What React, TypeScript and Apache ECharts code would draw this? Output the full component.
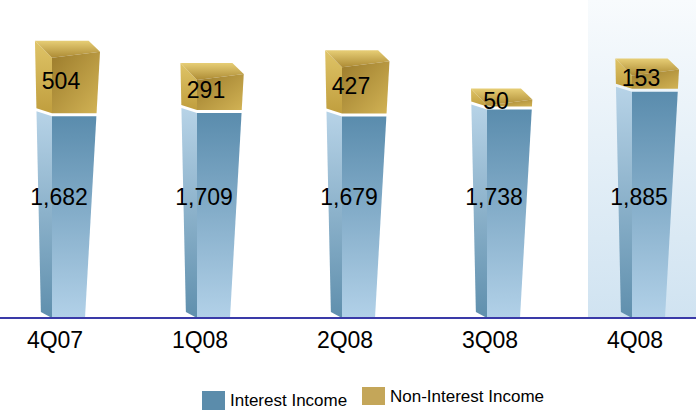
import React, { useEffect, useRef } from 'react';
import * as echarts from 'echarts';

const categories = ['4Q07', '1Q08', '2Q08', '3Q08', '4Q08'];
const interestIncome = [1682, 1709, 1679, 1738, 1885];
const nonInterestIncome = [504, 291, 427, 50, 153];
const highlightedCategory = '4Q08';
const seriesNames = ['Interest Income', 'Non-Interest Income'];

const FONT = '"Liberation Sans", Arial, Helvetica, sans-serif';
const fmt = (v: number) => v.toLocaleString('en-US');

const vGrad = (a: string, b: string) =>
  new echarts.graphic.LinearGradient(0, 0, 0, 1, [
    { offset: 0, color: a },
    { offset: 1, color: b },
  ]);
const dGrad = (a: string, b: string) =>
  new echarts.graphic.LinearGradient(0, 0, 1, 1, [
    { offset: 0, color: a },
    { offset: 1, color: b },
  ]);

function geom(api: any, i: number) {
  const p = api.coord([i, 0]);
  const cx = p[0];
  const base = p[1];
  const xL = cx - 3;
  const outer = (y: number) => xL - 11 - (6 * (base - y)) / 275;
  const right = (y: number) => xL + 33 + (15 * (base - y)) / 266;
  return { cx, base, xL, outer, right };
}

function renderInterest(params: any, api: any) {
  const i = api.value(0);
  const g = geom(api, i);
  const vi = api.coord([i, api.value(2)])[1];
  const children: any[] = [];
  if (categories[i] === highlightedCategory) {
    children.push({
      type: 'rect',
      shape: { x: g.xL - 44, y: 0, width: 140, height: g.base },
      style: { fill: vGrad('#f8fbfd', '#d0e3f1') },
    });
  }
  children.push({
    type: 'polygon',
    shape: {
      points: [
        [g.outer(vi - 5), vi - 5],
        [g.xL, vi],
        [g.xL, g.base],
        [g.outer(g.base - 6), g.base - 6],
      ],
    },
    style: { fill: vGrad('#b7d3e7', '#5f8fad') },
  });
  children.push({
    type: 'polygon',
    shape: {
      points: [
        [g.xL, vi],
        [g.right(vi), vi],
        [g.right(g.base), g.base],
        [g.xL, g.base],
      ],
    },
    style: { fill: vGrad('#5a8cad', '#b2d1e8') },
  });
  children.push({
    type: 'text',
    x: g.xL + 7,
    y: g.base - 121,
    style: {
      text: fmt(api.value(2)),
      fontSize: 23,
      fontFamily: FONT,
      fill: '#000',
      align: 'center',
      verticalAlign: 'middle',
    },
  });
  return { type: 'group', children };
}

function renderNonInterest(params: any, api: any) {
  const i = api.value(0);
  const g = geom(api, i);
  const vt = api.coord([i, api.value(2)])[1];
  const vi = api.coord([i, api.value(1)])[1];
  const fb = vi - 3;
  let fl = vt + 2;
  if (fl > fb - 1) fl = fb - 1;
  const fr = fl - 6;
  let back = vt - 15;
  if (back > fr - 6) back = fr - 6;
  const children: any[] = [];
  children.push({
    type: 'polygon',
    shape: {
      points: [
        [g.outer(back), back],
        [g.xL, fl],
        [g.xL, fb],
        [g.outer(fb - 5), fb - 5],
      ],
    },
    style: { fill: vGrad('#dfc467', '#c09e3e') },
  });
  children.push({
    type: 'polygon',
    shape: {
      points: [
        [g.outer(back), back],
        [g.right(back) - 12, back],
        [g.right(fr), fr],
        [g.xL, fl],
      ],
    },
    style: { fill: vGrad('#e7ce76', '#ad8b34') },
  });
  children.push({
    type: 'polygon',
    shape: {
      points: [
        [g.xL, fl],
        [g.right(fr), fr],
        [g.right(fb), fb],
        [g.xL, fb],
      ],
    },
    style: { fill: dGrad('#9c7c2c', '#d2b355') },
  });
  children.push({
    type: 'text',
    x: g.xL + 9,
    y: (vt + vi) / 2 - 5,
    style: {
      text: fmt(api.value(3)),
      fontSize: 23,
      fontFamily: FONT,
      fill: '#000',
      align: 'center',
      verticalAlign: 'middle',
    },
  });
  return { type: 'group', children };
}

export default function App() {
  const ref = useRef<HTMLDivElement>(null);
  useEffect(() => {
    document.body.style.margin = '0';
    const chart = echarts.init(ref.current as HTMLDivElement, null, { renderer: 'svg' });
    const interestData = categories.map((_, i) => [i, 0, interestIncome[i]]);
    const nonData = categories.map((_, i) => [
      i,
      interestIncome[i],
      interestIncome[i] + nonInterestIncome[i],
      nonInterestIncome[i],
    ]);
    const legendText = { fontSize: 17, fontFamily: FONT, color: '#000' };
    chart.setOption({
      animation: false,
      backgroundColor: '#fff',
      grid: {
        left: -17.5,
        right: -11.5,
        top: 18,
        bottom: 92,
        containLabel: false,
        outerBoundsMode: 'none',
      },
      legend: [
        {
          data: [seriesNames[0]],
          left: 202,
          top: 391,
          itemWidth: 23,
          itemHeight: 19,
          icon: 'rect',
          padding: 0,
          textStyle: legendText,
        },
        {
          data: [seriesNames[1]],
          left: 362,
          top: 387,
          itemWidth: 23,
          itemHeight: 18,
          icon: 'rect',
          padding: 0,
          textStyle: legendText,
        },
      ],
      xAxis: {
        type: 'category',
        data: categories,
        z: 10,
        axisLine: { lineStyle: { color: '#3a3aa8', width: 2 } },
        axisTick: { show: false },
        splitLine: { show: false },
        axisLabel: { fontSize: 23, color: '#000', fontFamily: FONT, margin: 10 },
      },
      yAxis: { type: 'value', min: 0, max: 2500, show: false },
      series: [
        {
          name: seriesNames[0],
          type: 'custom',
          renderItem: renderInterest,
          data: interestData,
          encode: { x: 0, y: [1, 2] },
          itemStyle: { color: '#5b8cab' },
          clip: false,
          z: 2,
        },
        {
          name: seriesNames[1],
          type: 'custom',
          renderItem: renderNonInterest,
          data: nonData,
          encode: { x: 0, y: [1, 2] },
          itemStyle: { color: '#c4a659' },
          clip: false,
          z: 3,
        },
      ],
    });
    return () => chart.dispose();
  }, []);
  return <div ref={ref} style={{ width: 696, height: 410 }} />;
}
